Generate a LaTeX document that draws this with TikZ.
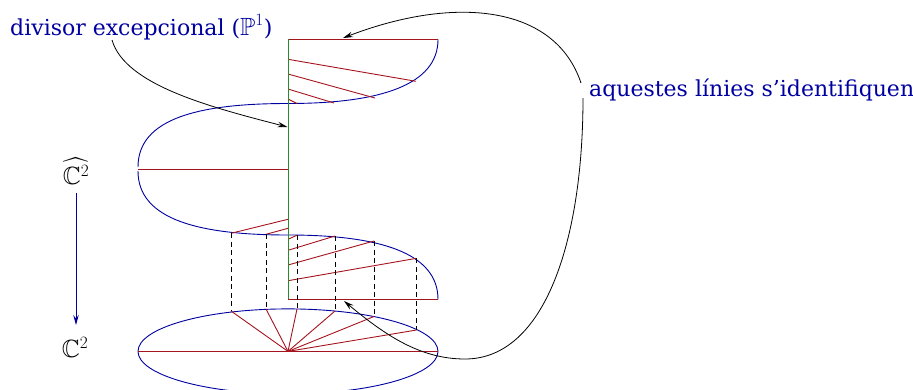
\documentclass[tikz,border=0pt]{standalone}
\usepackage{amssymb}
\usepackage{fontspec}
\setmainfont{DejaVu Serif}
\usetikzlibrary{arrows.meta}
\DeclareMathSizes{22}{24.88}{17.28}{14.4}
\definecolor{bl}{RGB}{0,0,160}
\definecolor{rd}{RGB}{165,20,30}
\definecolor{gr}{RGB}{40,140,40}
\tikzset{
 blueline/.style={draw=bl,line width=0.9pt},
 redline/.style={draw=rd,line width=0.9pt},
 greenline/.style={draw=gr,line width=1pt},
 dashline/.style={draw=black,line width=0.8pt,dash pattern=on 5pt off 3.5pt},
 callout/.style={draw=black,line width=0.8pt,-{Stealth[length=10pt,width=5.5pt,inset=3.5pt]}},
 bluetext/.style={text=bl,inner sep=0pt,anchor=base west,font=\fontsize{22}{24}\selectfont},
 blacktext/.style={text=black,inner sep=0pt,font=\fontsize{22}{24}\selectfont},
}
\begin{document}
\begin{tikzpicture}[x=1pt,y=-1pt]
\useasboundingbox (0,0) rectangle (913,389);
\clip (0,0) rectangle (913,389);
% labels
\node[bluetext] (div) at (10,35) {divisor excepcional ($\mathbb{P}^1$)};
\node[bluetext] (aq) at (589,96) {aquestes línies s’identifiquen};
\node[blacktext] (chat) at (76,171) {$\widehat{\mathbb{C}^2}$};
\node[blacktext] (c) at (75,347) {$\mathbb{C}^2$};
% key points
\coordinate (tl) at (288,39.4); \coordinate (tr) at (438,39.4);
\coordinate (bl) at (288,299.4); \coordinate (br) at (438,299.4);
\coordinate (o) at (288,351.4);
\coordinate (a1) at (231,311); \coordinate (a2) at (266,309);
\coordinate (a3) at (297,309); \coordinate (a4) at (335,311);
\coordinate (a5) at (374,316.5); \coordinate (a6) at (416.5,330);
\coordinate (b1) at (231,233.3); \coordinate (b2) at (266,234.3);
\coordinate (b3) at (297,235.2); \coordinate (b4) at (335,236);
\coordinate (b5) at (374,241); \coordinate (b6) at (416.5,258.3);
% blue outline
\draw[blueline] (tr) .. controls (438,85) and (380,103.5) .. (288,103.5)
  .. controls (200,103.5) and (138,118) .. (138,167);
\draw[blueline] (138,171) .. controls (138,220) and (200,235) .. (288,235)
  .. controls (380,235) and (438,253) .. (br);
\draw[blueline] (o) ellipse [x radius=150,y radius=42.5];
% red lines
\draw[redline] (tl) -- (tr);
\draw[redline] (bl) -- (br);
\draw[redline] (288,59.3) -- (416,81.3);
\draw[redline] (288,74) -- (375,98);
\draw[redline] (288,89) -- (334,103);
\draw[redline] (288,99) -- (297,103.5);
\draw[redline] (138,169.4) -- (288,169.4);
\draw[redline] (b1) -- (288,219.3);
\draw[redline] (b2) -- (288,228.3);
\draw[redline] (288,239.3) -- (b3);
\draw[redline] (288,250.3) -- (b4);
\draw[redline] (288,265) -- (b5);
\draw[redline] (288,280.7) -- (b6);
\draw[redline] (138,351.4) -- (438,351.4);
\foreach \p in {a1,a2,a3,a4,a5,a6} \draw[redline] (o) -- (\p);
% green divisor
\draw[greenline] (tl) -- (bl);
% dashed
\foreach \i in {1,...,6} \draw[dashline] (b\i) -- (a\i);
% callouts
\coordinate (divs) at (112,40);
\coordinate (divt) at (287.5,127);
\draw[callout] (divs) .. controls (125,85) and (210,107) .. (divt);
\coordinate (aqa) at (581,83);
\coordinate (aqb) at (583,98);
\draw[callout] (aqa) .. controls (555,5) and (455,-5) .. (343,38);
\draw[callout] (aqb) .. controls (583,240) and (545,359) .. (465,359)
  .. controls (420,359) and (385,335) .. (344,301);
% projection
\draw[draw=bl,line width=0.8pt,-{Stealth[length=10pt,width=5.5pt,inset=3.5pt]}] (76,193) -- (76,325);
\end{tikzpicture}
\end{document}
